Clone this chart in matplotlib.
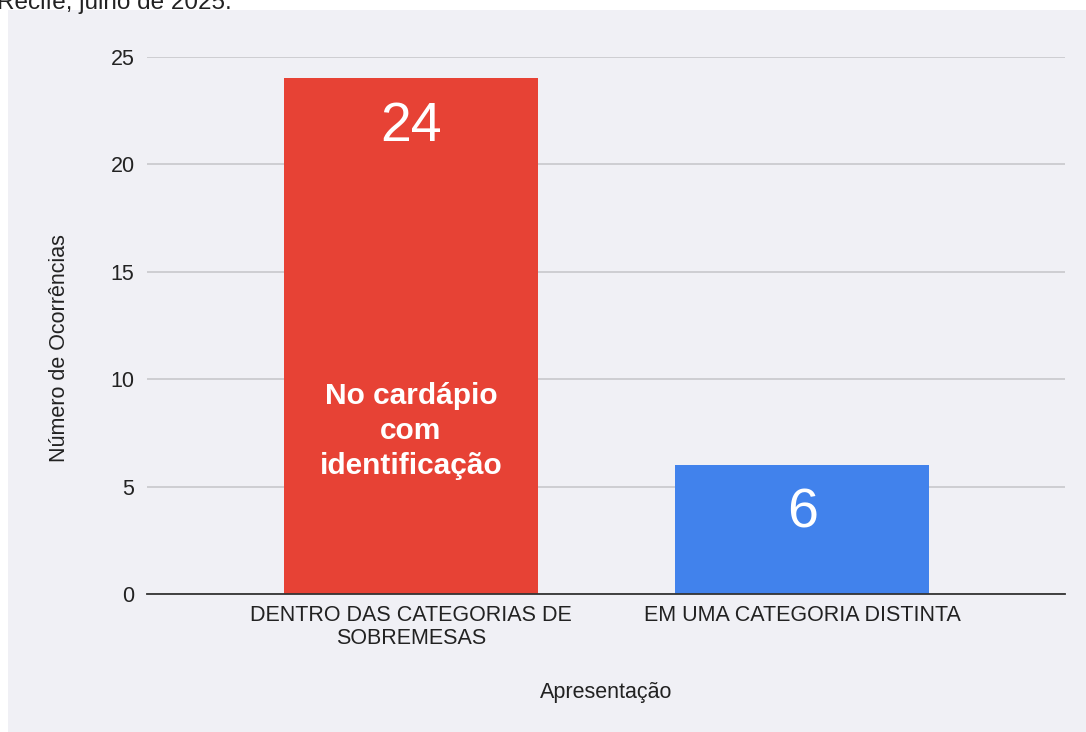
import matplotlib.pyplot as plt
from matplotlib.patches import Rectangle

plt.rcParams['font.family'] = ['Liberation Sans', 'DejaVu Sans']

categorias = ['DENTRO DAS CATEGORIAS DE\nSOBREMESAS', 'EM UMA CATEGORIA DISTINTA']
ocorrencias = [24, 6]
cores = ['#e74235', '#4182ec']
yticks = [0, 5, 10, 15, 20, 25]

fig = plt.figure(figsize=(10.86, 7.32), dpi=100)

# painel cinza do grafico
fig.patches.append(Rectangle((8 / 1086, 0), 1078 / 1086, 722 / 732,
                             transform=fig.transFigure, facecolor='#f0f0f5',
                             edgecolor='none', zorder=-10))
fig.text(-0.003, 1.0 + 8 / 732, 'Recife, julho de 2025.', fontsize=17.5,
         va='top', ha='left', color='#222222')

ax = fig.add_axes([147 / 1086, 1 - 594 / 732, 918 / 1086, 537 / 732])
ax.set_facecolor('none')

x = list(range(len(categorias)))
bars = ax.bar(x, ocorrencias, width=0.65, color=cores, zorder=3)

ax.set_xlim(-0.675, 1.672)
ax.set_ylim(0, 25)
ax.set_yticks(yticks)
ax.set_xticks(x)
ax.set_xticklabels(categorias, fontsize=15.5, color='#222222', linespacing=1.1)
ax.tick_params(axis='both', length=0, labelsize=15.5, colors='#222222')
ax.tick_params(axis='y', pad=9)
ax.tick_params(axis='x', pad=8)
ax.grid(axis='y', color='#c4c4c8', linewidth=1.1, zorder=1)
for s in ['top', 'right', 'left']:
    ax.spines[s].set_visible(False)
ax.spines['bottom'].set_color('#333333')
ax.spines['bottom'].set_linewidth(1.3)
ax.spines['bottom'].set_zorder(4)

for xi, v in zip(x, ocorrencias):
    ax.annotate(str(v), (xi, v), xytext=(0, -35), textcoords='offset points',
                ha='center', va='center', fontsize=40, color='white', zorder=5)

ax.text(0, 7.6, 'No cardápio\ncom\nidentificação', ha='center', va='center',
        fontsize=21.5, fontweight='bold', color='white', linespacing=1.32, zorder=5)

ax.set_ylabel('Número de Ocorrências', fontsize=15.5, color='#222222')
ax.yaxis.set_label_coords(-0.084, 0.458)
ax.set_xlabel('Apresentação', fontsize=15.5, color='#222222', labelpad=24)

fig.savefig('out.png', dpi=100)
